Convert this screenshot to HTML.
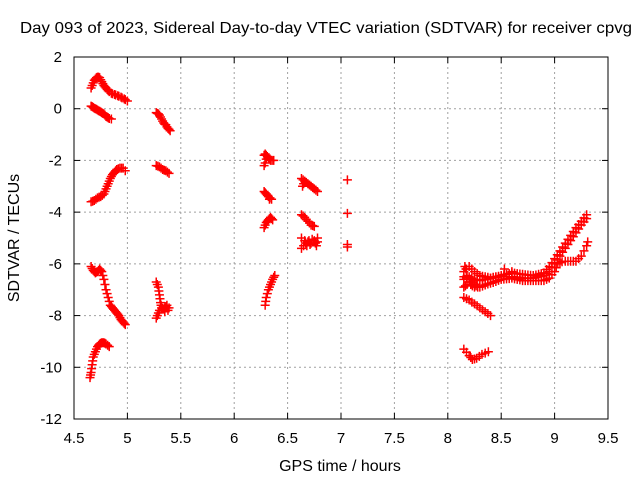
<!DOCTYPE html>
<html><head><meta charset="utf-8"><style>
body{margin:0;background:#fff;}
svg text{font-family:"Liberation Sans",sans-serif;font-size:15px;fill:#000;}
svg text.big{font-size:16px;}
</style></head><body>
<svg id="chart" width="640" height="480" xmlns="http://www.w3.org/2000/svg">
<text class="big" x="20" y="33" textLength="612" lengthAdjust="spacingAndGlyphs">Day 093 of 2023, Sidereal Day-to-day VTEC variation (SDTVAR) for receiver cpvg</text>
<g id="grid"></g>
<g id="ticks"></g>
<g id="marks"></g>
<rect x="74" y="57" width="534" height="362" fill="none" stroke="#000" stroke-width="1"/>
<text class="big" x="340" y="471" text-anchor="middle">GPS time / hours</text>
<text class="big" transform="translate(19,238) rotate(-90)" text-anchor="middle">SDTVAR / TECUs</text>
</svg>
<script>
const xTicks=[4.5,5,5.5,6,6.5,7,7.5,8,8.5,9,9.5];
const yTicks=[2,0,-2,-4,-6,-8,-10,-12];
const trackA=[[4.66,0.8],[4.67,0.9],[4.68,1.0],[4.69,1.1],[4.70,1.15],[4.71,1.2],[4.72,1.22],[4.73,1.22],[4.74,1.2],[4.75,1.12],[4.76,1.05],[4.77,0.97],[4.78,0.9],[4.79,0.85],[4.80,0.8],[4.81,0.75],[4.82,0.7],[4.83,0.66],[4.85,0.6],[4.86,0.58],[4.88,0.55],[4.89,0.53],[4.91,0.5],[4.92,0.48],[4.94,0.45],[4.95,0.42],[4.97,0.38],[4.98,0.35],[5.0,0.3]];
const trackB=[[4.66,0.1],[4.67,0.08],[4.68,0.05],[4.69,0.02],[4.70,0.0],[4.71,-0.02],[4.72,-0.05],[4.73,-0.08],[4.74,-0.1],[4.75,-0.12],[4.76,-0.15],[4.77,-0.18],[4.78,-0.2],[4.79,-0.25],[4.80,-0.3],[4.81,-0.32],[4.82,-0.35],[4.83,-0.38],[4.85,-0.4]];
const trackC=[[4.66,-3.6],[4.675,-3.58],[4.69,-3.55],[4.705,-3.5],[4.72,-3.45],[4.735,-3.42],[4.75,-3.4],[4.765,-3.35],[4.78,-3.3],[4.79,-3.2],[4.80,-3.1],[4.81,-3.0],[4.82,-2.9],[4.83,-2.8],[4.84,-2.7],[4.85,-2.62],[4.86,-2.55],[4.87,-2.5],[4.88,-2.45],[4.89,-2.4],[4.90,-2.35],[4.915,-2.32],[4.93,-2.3],[4.945,-2.3],[4.96,-2.3],[4.98,-2.4]];
const trackD=[[4.66,-6.1],[4.67,-6.18],[4.68,-6.25],[4.69,-6.3],[4.70,-6.35],[4.71,-6.32],[4.72,-6.3],[4.73,-6.25],[4.74,-6.2],[4.75,-6.25],[4.76,-6.3],[4.77,-6.45],[4.78,-6.6],[4.79,-6.8],[4.80,-7.0],[4.81,-7.15],[4.82,-7.3],[4.83,-7.45],[4.84,-7.6],[4.85,-7.65],[4.86,-7.7],[4.87,-7.75],[4.88,-7.8],[4.89,-7.85],[4.90,-7.9],[4.91,-7.95],[4.92,-8.0],[4.93,-8.08],[4.94,-8.15],[4.95,-8.2],[4.96,-8.25],[4.97,-8.3],[4.98,-8.35]];
const trackE=[[4.65,-10.4],[4.655,-10.3],[4.66,-10.2],[4.665,-10.05],[4.67,-9.9],[4.675,-9.75],[4.68,-9.6],[4.69,-9.5],[4.70,-9.4],[4.71,-9.3],[4.72,-9.2],[4.73,-9.15],[4.74,-9.1],[4.75,-9.07],[4.76,-9.05],[4.77,-9.05],[4.78,-9.05],[4.79,-9.07],[4.80,-9.1],[4.815,-9.15],[4.83,-9.2]];
const trackF=[[5.27,-0.15],[5.28,-0.18],[5.29,-0.2],[5.30,-0.25],[5.31,-0.32],[5.32,-0.4],[5.33,-0.48],[5.34,-0.55],[5.35,-0.6],[5.36,-0.62],[5.37,-0.7],[5.38,-0.76],[5.39,-0.8],[5.40,-0.85]];
const trackG=[[5.27,-2.2],[5.285,-2.22],[5.30,-2.25],[5.315,-2.3],[5.33,-2.35],[5.345,-2.38],[5.36,-2.4],[5.375,-2.45],[5.39,-2.5]];
const trackH=[[5.27,-6.7],[5.28,-6.8],[5.29,-6.9],[5.295,-7.05],[5.30,-7.2],[5.305,-7.35],[5.31,-7.5],[5.315,-7.6],[5.32,-7.7],[5.33,-7.72],[5.34,-7.75],[5.35,-7.7],[5.36,-7.65],[5.37,-7.7],[5.39,-7.7],[5.27,-8.1],[5.28,-8.0],[5.29,-7.9],[5.30,-7.8],[5.38,-7.8],[5.35,-7.85],[5.37,-7.6]];
const trackI=[[6.28,-1.8],[6.29,-1.75],[6.30,-1.8],[6.31,-1.85],[6.32,-1.9],[6.33,-1.95],[6.34,-2.0],[6.355,-2.0],[6.37,-2.0],[6.29,-2.1],[6.28,-2.2],[6.30,-1.95]];
const trackJ=[[6.28,-3.2],[6.29,-3.25],[6.30,-3.3],[6.31,-3.35],[6.32,-3.4],[6.335,-3.45],[6.35,-3.5],[6.33,-3.5]];
const trackK=[[6.28,-4.6],[6.29,-4.5],[6.30,-4.4],[6.31,-4.35],[6.32,-4.3],[6.33,-4.25],[6.34,-4.2],[6.35,-4.25],[6.36,-4.3]];
const trackL=[[6.29,-7.6],[6.295,-7.45],[6.30,-7.3],[6.31,-7.15],[6.32,-7.0],[6.33,-6.9],[6.34,-6.8],[6.35,-6.7],[6.36,-6.6],[6.37,-6.52],[6.38,-6.45]];
const trackM=[[6.63,-2.7],[6.645,-2.75],[6.66,-2.8],[6.675,-2.85],[6.69,-2.9],[6.705,-2.95],[6.72,-3.0],[6.735,-3.05],[6.75,-3.1],[6.765,-3.15],[6.78,-3.2],[6.64,-3.0],[6.65,-2.9]];
const trackN=[[6.63,-4.1],[6.645,-4.15],[6.66,-4.2],[6.675,-4.28],[6.69,-4.35],[6.705,-4.42],[6.72,-4.5],[6.735,-4.52],[6.75,-4.55]];
const trackO=[[6.63,-5.0],[6.63,-5.4],[6.65,-5.3],[6.66,-5.1],[6.67,-5.2],[6.68,-5.3],[6.69,-5.15],[6.70,-5.1],[6.71,-5.25],[6.72,-5.2],[6.73,-5.05],[6.75,-5.1],[6.76,-5.2],[6.77,-5.3],[6.78,-5.0],[6.78,-5.15]];
const trackP=[[7.06,-2.75],[7.06,-4.05],[7.06,-5.25],[7.06,-5.35]];
const trackQ=[[8.15,-7.3],[8.175,-7.35],[8.2,-7.4],[8.225,-7.48],[8.25,-7.55],[8.275,-7.62],[8.3,-7.7],[8.325,-7.78],[8.35,-7.85],[8.375,-7.92],[8.4,-8.0]];
const trackR=[[8.15,-9.3],[8.175,-9.42],[8.2,-9.55],[8.215,-9.62],[8.23,-9.7],[8.25,-9.68],[8.27,-9.65],[8.295,-9.58],[8.32,-9.5],[8.35,-9.45],[8.38,-9.4]];
const trackS1=[[8.15,-6.3],[8.175,-6.2],[8.2,-6.1],[8.225,-6.2],[8.25,-6.3],[8.275,-6.38],[8.3,-6.45],[8.325,-6.48],[8.35,-6.5],[8.375,-6.52],[8.4,-6.55],[8.425,-6.52],[8.45,-6.5],[8.475,-6.48],[8.5,-6.45],[8.525,-6.42],[8.55,-6.4],[8.575,-6.38],[8.6,-6.35],[8.625,-6.36],[8.65,-6.38],[8.675,-6.39],[8.7,-6.4],[8.725,-6.42],[8.75,-6.43],[8.775,-6.44],[8.8,-6.45],[8.825,-6.43],[8.85,-6.4],[8.875,-6.38],[8.9,-6.35],[8.925,-6.22],[8.95,-6.1],[8.975,-5.95],[9.0,-5.8],[9.025,-5.65],[9.05,-5.5],[9.075,-5.35],[9.1,-5.2],[9.125,-5.05],[9.15,-4.9],[9.175,-4.75],[9.2,-4.6],[9.225,-4.48],[9.25,-4.35],[9.275,-4.22],[9.3,-4.1]];
const trackS2=[[8.15,-6.6],[8.175,-6.55],[8.2,-6.5],[8.225,-6.55],[8.25,-6.6],[8.275,-6.63],[8.3,-6.65],[8.325,-6.62],[8.35,-6.6],[8.375,-6.58],[8.4,-6.55],[8.425,-6.53],[8.45,-6.52],[8.475,-6.51],[8.5,-6.5],[8.525,-6.5],[8.55,-6.5],[8.575,-6.5],[8.6,-6.5],[8.625,-6.51],[8.65,-6.52],[8.675,-6.53],[8.7,-6.55],[8.725,-6.55],[8.75,-6.55],[8.775,-6.55],[8.8,-6.55],[8.825,-6.52],[8.85,-6.5],[8.875,-6.48],[8.9,-6.45],[8.925,-6.38],[8.95,-6.3],[8.975,-6.15],[9.0,-6.0],[9.025,-5.85],[9.05,-5.7],[9.075,-5.55],[9.1,-5.4],[9.125,-5.25],[9.15,-5.1],[9.175,-4.95],[9.2,-4.8],[9.225,-4.65],[9.25,-4.5],[9.275,-4.38],[9.3,-4.25]];
const trackS3=[[8.15,-6.9],[8.165,-6.85],[8.18,-6.8],[8.2,-6.7],[8.22,-6.6],[8.235,-6.7],[8.25,-6.8],[8.265,-6.85],[8.28,-6.9],[8.3,-6.9],[8.325,-6.86],[8.35,-6.82],[8.375,-6.78],[8.4,-6.75],[8.425,-6.72],[8.45,-6.68],[8.475,-6.64],[8.5,-6.6],[8.525,-6.59],[8.55,-6.58],[8.575,-6.57],[8.6,-6.55],[8.625,-6.58],[8.65,-6.6],[8.675,-6.62],[8.7,-6.65],[8.725,-6.65],[8.75,-6.65],[8.775,-6.65],[8.8,-6.65],[8.825,-6.65],[8.85,-6.65],[8.875,-6.65],[8.9,-6.65],[8.925,-6.6],[8.95,-6.55],[8.975,-6.42],[9.0,-6.3],[9.015,-6.15],[9.03,-6.0],[9.05,-5.95],[9.07,-5.92],[9.1,-5.9],[9.125,-5.9],[9.15,-5.9],[9.175,-5.9],[9.2,-5.9],[9.225,-5.8],[9.25,-5.7],[9.275,-5.5],[9.3,-5.3],[9.31,-5.15]];
const trackS4=[[8.17,-6.2],[8.18,-6.45],[8.2,-6.7],[8.215,-6.8],[8.23,-6.85],[8.25,-6.9],[8.53,-6.2],[8.6,-6.3],[8.15,-6.5],[8.16,-6.1]];
const tracks=[trackA,trackB,trackC,trackD,trackE,trackF,trackG,trackH,trackI,trackJ,trackK,trackL,trackM,trackN,trackO,trackP,trackQ,trackR,trackS1,trackS2,trackS3,trackS4];

const X0=74,X1=608,Y0=57,Y1=419;
function sx(v){return X0+(v-4.5)/(9.5-4.5)*(X1-X0);}
function sy(v){return Y0+(2-v)/(2-(-12))*(Y1-Y0);}
const NS="http://www.w3.org/2000/svg";
const grid=document.getElementById('grid'),ticks=document.getElementById('ticks'),marks=document.getElementById('marks');
function el(t,a,p){const e=document.createElementNS(NS,t);for(const k in a)e.setAttribute(k,a[k]);p.appendChild(e);return e;}
xTicks.forEach(v=>{
  const x=sx(v);
  if(v>4.5&&v<9.5){const g=el('line',{x1:x,x2:x,y1:Y0,y2:Y1,stroke:'#a0a0a0','stroke-dasharray':'2,3'},grid);
    
    }
  const t1=el('line',{x1:x,x2:x,y1:Y1,y2:Y1-6,stroke:'#000'},ticks);
  
  
  const t2=el('line',{x1:x,x2:x,y1:Y0,y2:Y0+6,stroke:'#000'},ticks);
  
  
  const l=el('text',{x:x,y:443,'text-anchor':'middle'},ticks);l.textContent=String(v);
  
  
});
yTicks.forEach(v=>{
  const y=sy(v);
  if(v<2&&v>-12){const g=el('line',{x1:X0,x2:X1,y1:y,y2:y,stroke:'#a0a0a0','stroke-dasharray':'2,3'},grid);
    
    }
  const t1=el('line',{x1:X0,x2:X0+6,y1:y,y2:y,stroke:'#000'},ticks);
  
  
  const t2=el('line',{x1:X1,x2:X1-6,y1:y,y2:y,stroke:'#000'},ticks);
  
  
  const l=el('text',{x:62,y:y+5,'text-anchor':'end'},ticks);l.textContent=String(v);
  
  
});
tracks.forEach(tr=>tr.forEach(p=>{
  const x=sx(p[0]),y=sy(p[1]);
  const m=el('path',{d:`M${x-4.5},${y}H${x+4.5}M${x},${y-4.5}V${y+4.5}`,stroke:'#ff0000','stroke-width':1.5,fill:'none'},marks);
  
  
}));
</script>
</body></html>
